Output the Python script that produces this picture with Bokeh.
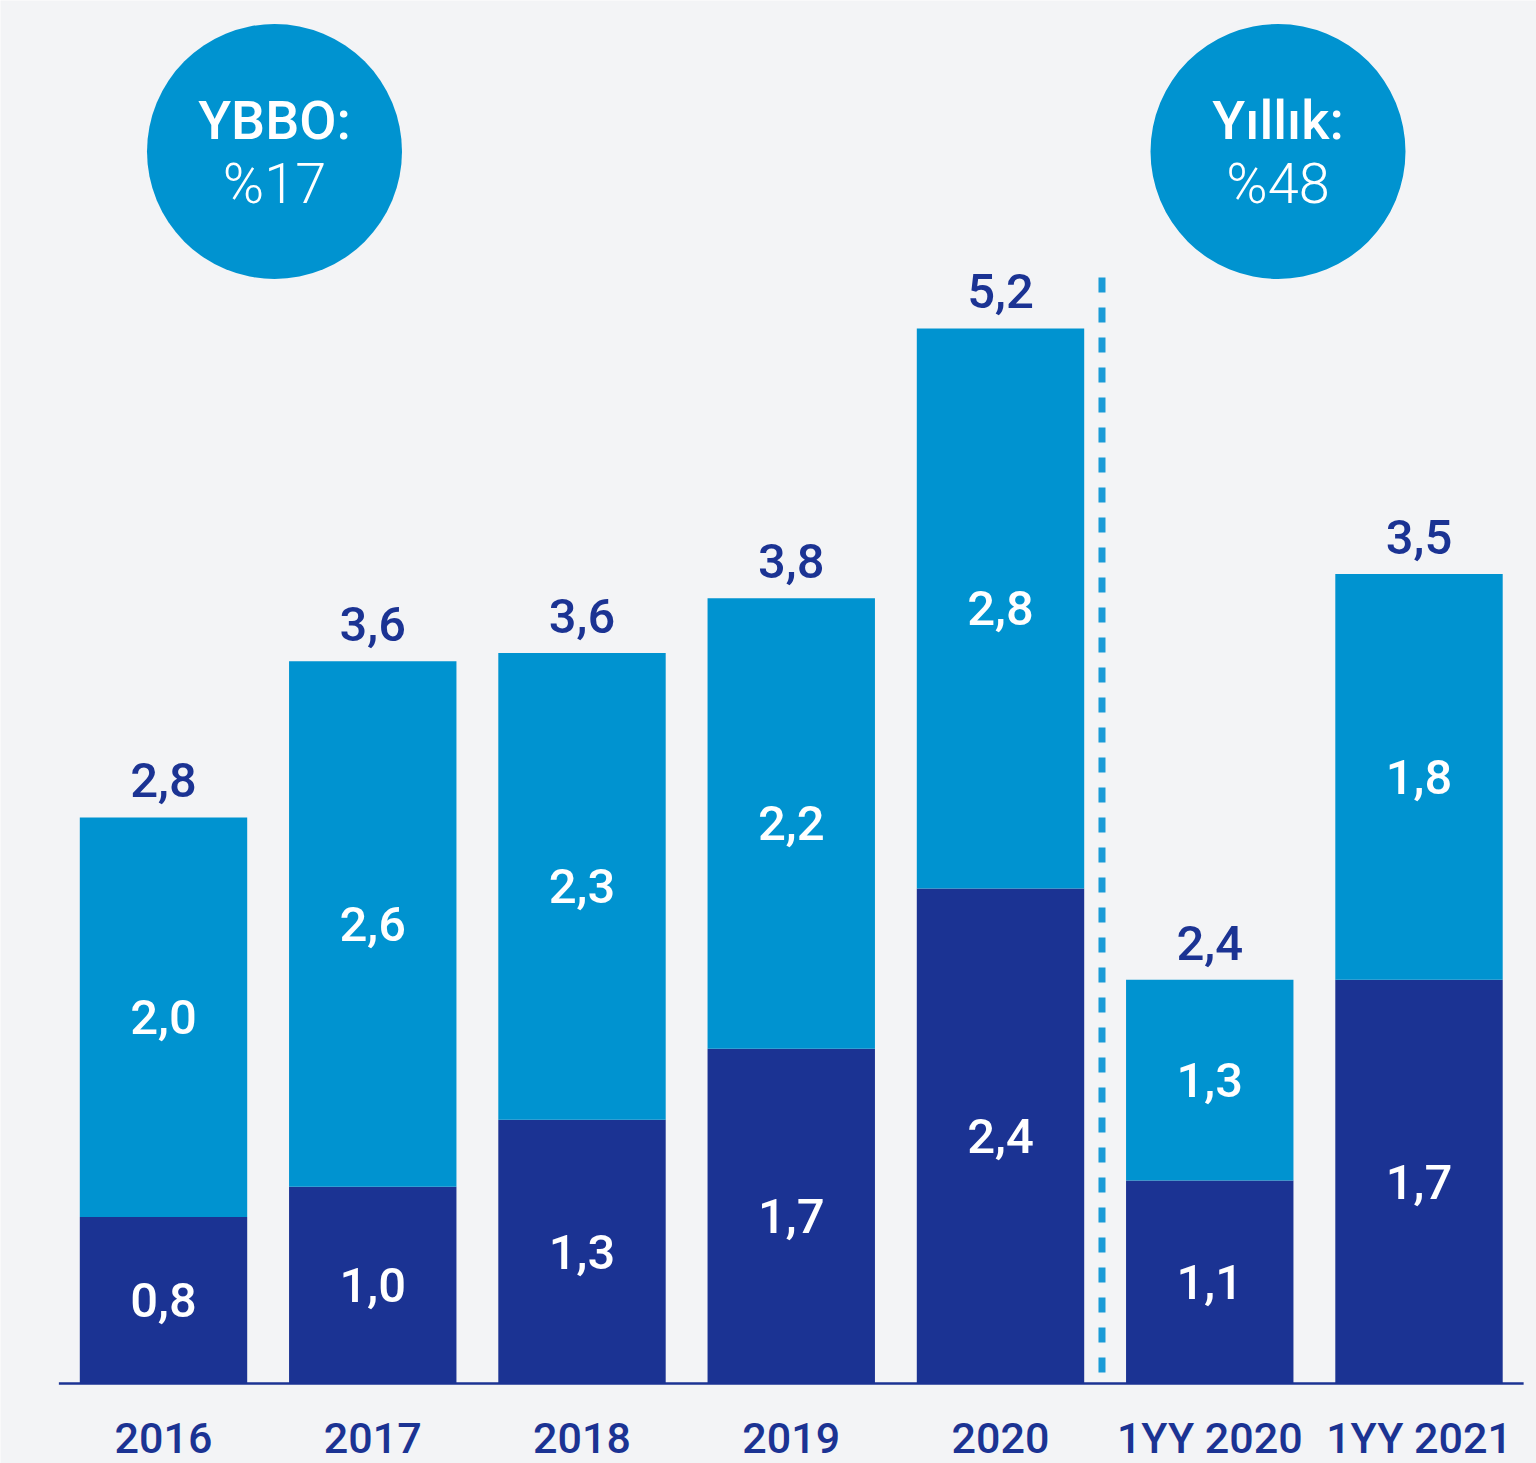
from bokeh.plotting import figure
from bokeh.models import ColumnDataSource, Range1d
from bokeh.embed import file_html
from bokeh.resources import INLINE
from bokeh.core.properties import value

# ---------------- data ----------------
categories = ["2016", "2017", "2018", "2019", "2020", "1YY 2020", "1YY 2021"]
# drawn bar heights (axis units)
bottom_vals = [0.82, 0.97, 1.30, 1.65, 2.44, 1.00, 1.99]
top_vals = [1.97, 2.59, 2.30, 2.22, 2.76, 0.99, 2.00]
# printed labels
bottom_labels = ["0,8", "1,0", "1,3", "1,7", "2,4", "1,1", "1,7"]
top_labels = ["2,0", "2,6", "2,3", "2,2", "2,8", "1,3", "1,8"]
total_labels = ["2,8", "3,6", "3,6", "3,8", "5,2", "2,4", "3,5"]
badge_titles = ["YBBO:", "Yıllık:"]
badge_values = ["%17", "%48"]

# ---------------- style ----------------
BG = "#f3f4f6"
DARK = "#1b3393"
LIGHT = "#0093d0"
DASH = "#1a9bd7"
FONT_MED = value("Roboto Medium")
FONT_BOLD = value("Roboto")
FONT_LIGHT = value("Roboto Light")

W, H = 1536, 1463
PPU_X = 209.25          # pixels per category
PPU_Y = 202.9           # pixels per unit
BASE_Y = 1383           # baseline pixel row
x_start = -163 / PPU_X
x_end = x_start + W / PPU_X
y_start = -(H - BASE_Y) / PPU_Y
y_end = y_start + H / PPU_Y

p = figure(width=W, height=H,
           x_range=Range1d(x_start, x_end), y_range=Range1d(y_start, y_end),
           output_backend="svg", toolbar_location=None,
           x_axis_type=None, y_axis_type=None,
           min_border=0, outline_line_color=None,
           background_fill_color=BG, border_fill_color=BG)

xs = list(range(len(categories)))
totals = [b + t for b, t in zip(bottom_vals, top_vals)]
src = ColumnDataSource(dict(
    x=xs, cat=categories, b=bottom_vals, tot=totals,
    bmid=[b / 2 for b in bottom_vals],
    tmid=[b + t / 2 for b, t in zip(bottom_vals, top_vals)],
    ttop=[v + 37 / PPU_Y for v in totals],
    catY=[-54 / PPU_Y] * len(xs),
    bl=bottom_labels, tl=top_labels, totl=total_labels,
))

# baseline
p.segment(x0=[-0.5], y0=[0], x1=[len(xs) - 0.5], y1=[0], line_color=DARK, line_width=2.5)

# bars
p.vbar(x="x", width=0.8, bottom=0, top="b", source=src, fill_color=DARK, line_color=None)
p.vbar(x="x", width=0.8, bottom="b", top="tot", source=src, fill_color=LIGHT, line_color=None)

# dashed separator between annual and half-year bars
p.segment(x0=[4.485], y0=[(BASE_Y - 277) / PPU_Y], x1=[4.485], y1=[0],
          line_color=DASH, line_width=7, line_dash="15 15", line_cap="butt")

# labels
lab = dict(source=src, text_font=FONT_MED, text_font_size="49px", text_font_style="normal",
           text_align="center", text_baseline="middle")
p.text(x="x", y="bmid", text="bl", text_color="white", **lab)
p.text(x="x", y="tmid", text="tl", text_color="white", **lab)
p.text(x="x", y="ttop", text="totl", text_color=DARK, **lab)
p.text(x="x", y="catY", text="cat", source=src, text_color=DARK, text_font=FONT_MED,
       text_font_size="43px", text_font_style="normal", text_align="center", text_baseline="middle")

# badges
bx = [(274 - 163) / PPU_X, (1277.5 - 163) / PPU_X]
by = [(BASE_Y - 151) / PPU_Y] * 2
p.scatter(x=bx, y=by, size=255, marker="circle", fill_color=LIGHT, line_color=None)
p.text(x=bx, y=[(BASE_Y - 120) / PPU_Y] * 2, text=badge_titles, text_color="white", text_font=FONT_MED,
       text_font_size="54px", text_font_style="normal", text_align="center", text_baseline="middle")
p.text(x=bx, y=[(BASE_Y - 183) / PPU_Y] * 2, text=badge_values, text_color="white", text_font=FONT_LIGHT,
       text_font_size="56px", text_font_style="normal", text_align="center", text_baseline="middle")

TEMPLATE = """{% extends base %}
{% block postamble %}<style>html, body { margin: 0 !important; padding: 0; background: #f3f4f6; overflow: hidden; }</style>{% endblock %}"""
try:
    html = file_html(p, INLINE, template=TEMPLATE)
except Exception:
    html = file_html(p, INLINE)
open("out.html", "w").write(html)
